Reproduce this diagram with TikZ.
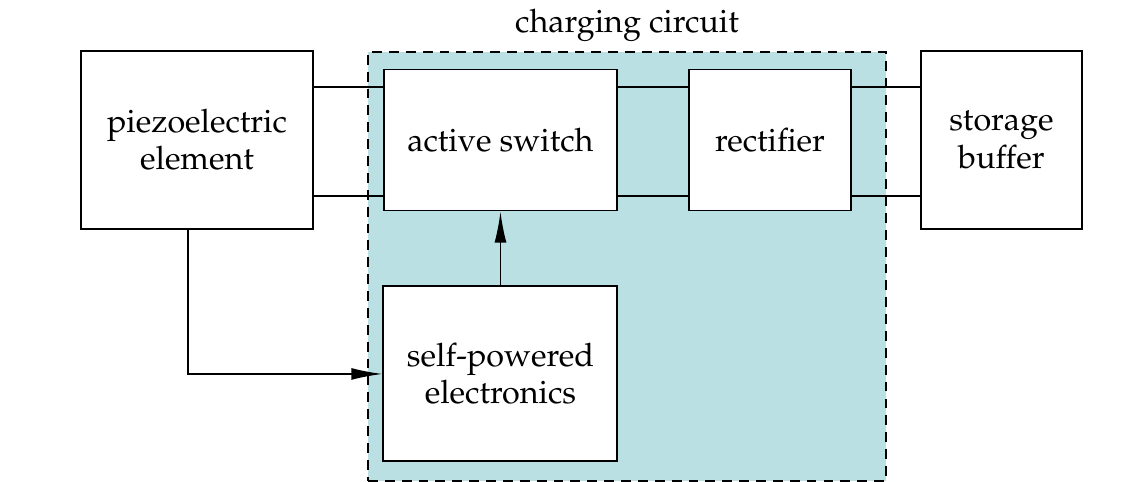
\documentclass[tikz,border=0pt]{standalone}
\usepackage[T1]{fontenc}
\usepackage{mathpazo}
\usepackage{xcolor}
\usetikzlibrary{positioning,arrows.meta}
\definecolor{circuitblue}{RGB}{187,224,228}

\begin{document}
\begin{tikzpicture}

\tikzstyle{every node}=[font=\fontsize{23}{26.5}\selectfont]
\tikzstyle{block}=[draw, line width=1.4pt, fill=white, align=center, inner sep=0]
\tikzstyle{wire}=[line width=1.2pt]
\tikzstyle{tip}=[-{Latex[length=7.8mm,width=3mm]}]

\useasboundingbox (0,0) rectangle (28.5,12.05);

% region %
\node[draw, line width=1.4pt, dash pattern=on 7pt off 5pt, fill=circuitblue, minimum width=12.95cm, minimum height=10.72cm, inner sep=0] (circuit) at (15.675,5.39) {};
\node[anchor=base] (title) at ([yshift=0.475cm]circuit.north) {charging circuit};

% nodes %
\node[block, minimum width=5.8cm, minimum height=4.45cm] (piezo) at (4.925,8.55) {piezoelectric\\element};
\node[block, minimum width=5.825cm, minimum height=3.525cm, right=1.725 of piezo] (switch) {active switch};
\node[block, minimum width=4.05cm, minimum height=3.525cm, right=1.75 of switch] (rect) {rectifier};
\node[block, minimum width=4.025cm, minimum height=4.45cm, right=1.7 of rect] (buffer) {storage\\buffer};
\node[block, minimum width=5.85cm, minimum height=4.375cm, below=1.85 of switch] (selfpow) {self-powered\\electronics};

% helper coordinates %
\coordinate (hi) at (0,9.875);
\coordinate (lo) at (0,7.15);
\coordinate (tap) at ([xshift=-0.225cm]piezo.south);

% edges %
\foreach \y in {hi,lo} {
  \draw[wire] (piezo.east |- \y) -- (switch.west |- \y);
  \draw[wire] (switch.east |- \y) -- (rect.west |- \y);
  \draw[wire] (rect.east |- \y) -- (buffer.west |- \y);
}
\draw[wire, tip] (selfpow) -- (switch);
\draw[wire, tip] (tap) |- (selfpow.west);

\end{tikzpicture}
\end{document}
